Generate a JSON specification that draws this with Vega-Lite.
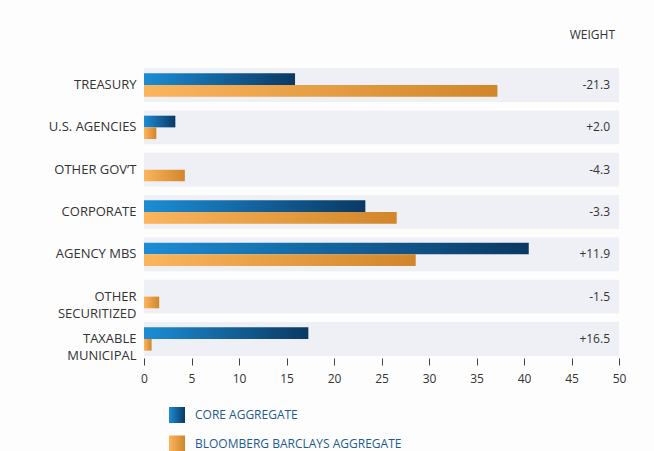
{
  "$schema": "https://vega.github.io/schema/vega-lite/v6.json",
  "width": 475,
  "height": 292,
  "autosize": "none",
  "padding": {"left": 144, "top": 66, "right": 35, "bottom": 93},
  "background": "#fdfdfd",
  "config": {
    "font": "Open Sans",
    "view": {"stroke": null}
  },
  "title": {
    "text": "WEIGHT",
    "anchor": "end",
    "frame": "group",
    "fontSize": 12,
    "fontWeight": "normal",
    "color": "#333333",
    "offset": 24,
    "dx": -4
  },
  "datasets": {
    "cats": [
      {"category": "TREASURY", "weight": "-21.3"},
      {"category": "U.S. AGENCIES", "weight": "+2.0"},
      {"category": "OTHER GOV’T", "weight": "-4.3"},
      {"category": "CORPORATE", "weight": "-3.3"},
      {"category": "AGENCY MBS", "weight": "+11.9"},
      {"category": "OTHER|SECURITIZED", "weight": "-1.5"},
      {"category": "TAXABLE|MUNICIPAL", "weight": "+16.5"}
    ],
    "bars": [
      {"category": "TREASURY", "series": "CORE AGGREGATE", "value": 15.9},
      {"category": "TREASURY", "series": "BLOOMBERG BARCLAYS AGGREGATE", "value": 37.2},
      {"category": "U.S. AGENCIES", "series": "CORE AGGREGATE", "value": 3.3},
      {"category": "U.S. AGENCIES", "series": "BLOOMBERG BARCLAYS AGGREGATE", "value": 1.3},
      {"category": "OTHER GOV’T", "series": "BLOOMBERG BARCLAYS AGGREGATE", "value": 4.3},
      {"category": "CORPORATE", "series": "CORE AGGREGATE", "value": 23.3},
      {"category": "CORPORATE", "series": "BLOOMBERG BARCLAYS AGGREGATE", "value": 26.6},
      {"category": "AGENCY MBS", "series": "CORE AGGREGATE", "value": 40.5},
      {"category": "AGENCY MBS", "series": "BLOOMBERG BARCLAYS AGGREGATE", "value": 28.6},
      {"category": "OTHER|SECURITIZED", "series": "BLOOMBERG BARCLAYS AGGREGATE", "value": 1.6},
      {"category": "TAXABLE|MUNICIPAL", "series": "CORE AGGREGATE", "value": 17.3},
      {"category": "TAXABLE|MUNICIPAL", "series": "BLOOMBERG BARCLAYS AGGREGATE", "value": 0.8}
    ]
  },
  "encoding": {
    "y": {
      "field": "category",
      "type": "nominal",
      "sort": ["TREASURY", "U.S. AGENCIES", "OTHER GOV’T", "CORPORATE", "AGENCY MBS", "OTHER|SECURITIZED", "TAXABLE|MUNICIPAL"],
      "scale": {"paddingInner": 0.2, "paddingOuter": 0.05},
      "axis": {
        "title": null,
        "domain": false,
        "ticks": false,
        "labelPadding": 8,
        "labelFontSize": 13,
        "labelColor": "#333333",
        "labelLineHeight": 17,
        "labelExpr": "split(datum.label, '|')"
      }
    }
  },
  "layer": [
    {
      "data": {"name": "cats"},
      "mark": {"type": "bar", "color": "#eff0f6"},
      "encoding": {
        "x": {
          "datum": 0,
          "type": "quantitative",
          "scale": {"domain": [0, 50], "nice": false},
          "axis": {
            "title": null,
            "domain": false,
            "grid": false,
            "values": [0, 5, 10, 15, 20, 25, 30, 35, 40, 45, 50],
            "tickSize": 7,
            "tickColor": "#444444",
            "labelFontSize": 12,
            "labelColor": "#333333",
            "labelPadding": 8,
            "labelFlush": false
          }
        },
        "x2": {"datum": 50}
      }
    },
    {
      "data": {"name": "bars"},
      "mark": {"type": "bar"},
      "encoding": {
        "x": {"field": "value", "type": "quantitative"},
        "yOffset": {
          "field": "series",
          "type": "nominal",
          "sort": ["CORE AGGREGATE", "BLOOMBERG BARCLAYS AGGREGATE"],
          "scale": {"paddingInner": 0, "paddingOuter": 0.45}
        },
        "color": {
          "field": "series",
          "type": "nominal",
          "scale": {
            "domain": ["CORE AGGREGATE", "BLOOMBERG BARCLAYS AGGREGATE"],
            "range": [
              {"expr": "{gradient: 'linear', x1: 0, y1: 0, x2: 1, y2: 0, stops: [{offset: 0, color: '#1c8dd5'}, {offset: 1, color: '#0a3963'}]}"},
              {"expr": "{gradient: 'linear', x1: 0, y1: 0, x2: 1, y2: 0, stops: [{offset: 0, color: '#fbb55d'}, {offset: 1, color: '#d1862a'}]}"}
            ]
          },
          "legend": {
            "orient": "none",
            "legendX": 25,
            "legendY": 341,
            "title": null,
            "direction": "vertical",
            "symbolType": "square",
            "symbolSize": 256,
            "symbolStrokeWidth": 0,
            "symbolOpacity": 1,
            "labelFontSize": 12,
            "labelColor": "#1f5b92",
            "labelOffset": 10,
            "labelLimit": 500,
            "rowPadding": 12.5
          }
        }
      }
    },
    {
      "data": {"name": "cats"},
      "mark": {"type": "text", "align": "right", "baseline": "middle", "dx": -9, "fontSize": 12, "color": "#333333"},
      "encoding": {
        "x": {"datum": 50, "type": "quantitative"},
        "text": {"field": "weight", "type": "nominal"}
      }
    }
  ]
}
